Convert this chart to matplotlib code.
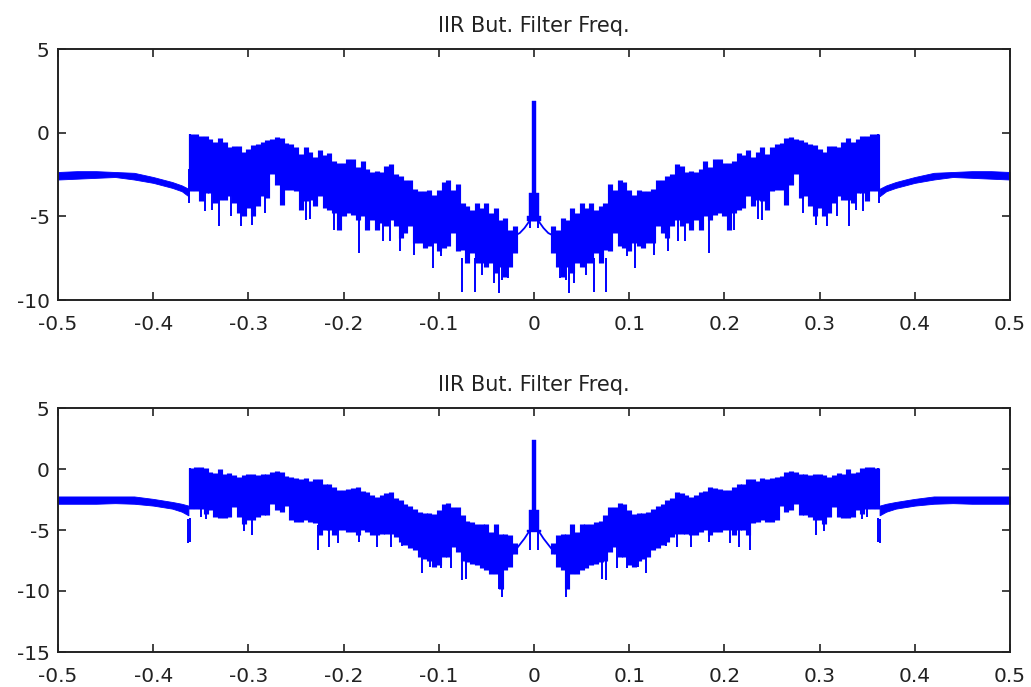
import matplotlib
matplotlib.use('Agg')
import matplotlib.pyplot as plt
import numpy as np

plt.rcParams['font.family'] = ['DejaVu Sans']
plt.rcParams['axes.unicode_minus'] = False

title = 'IIR But. Filter Freq.'
xticks = [-0.5, -0.4, -0.3, -0.2, -0.1, 0, 0.1, 0.2, 0.3, 0.4, 0.5]
xlabels = ['-0.5', '-0.4', '-0.3', '-0.2', '-0.1', '0', '0.1', '0.2', '0.3', '0.4', '0.5']
yticks_a = [-10, -5, 0, 5]
yticks_b = [-15, -10, -5, 0, 5]

# stop band outside the filter edge, negative side only (plot is symmetric)
edge_x = [-0.50, -0.48, -0.46, -0.44, -0.42, -0.40, -0.38, -0.37, -0.363]
edge_hi_a = [-2.35, -2.3, -2.3, -2.35, -2.4, -2.65, -2.95, -3.15, -3.35]
edge_lo_a = [-2.8, -2.75, -2.7, -2.65, -2.8, -3.0, -3.3, -3.5, -3.8]
edge_hi_b = [-2.25, -2.25, -2.25, -2.25, -2.25, -2.45, -2.7, -2.85, -3.0]
edge_lo_b = [-2.85, -2.85, -2.85, -2.8, -2.85, -3.0, -3.25, -3.5, -3.8]

# top and bottom of the dense band, read every 0.005 from -0.36 to -0.005
band_hi_a = [-0.1, -0.1, -0.2, -0.2, -0.4, -0.55, -0.3, -0.55, -0.85, -0.8, -0.8, -1.15,
             -0.95, -0.75, -0.65, -0.55, -0.45, -0.35, -0.25, -0.3, -0.6, -0.7, -0.85, -1.25,
             -0.85, -1.15, -1.45, -1.05, -1.35, -1.2, -1.7, -1.8, -1.8, -1.6, -1.6, -2.05,
             -1.7, -2.2, -2.35, -2.3, -2.35, -2.0, -1.9, -2.45, -2.6, -2.85, -2.85, -3.35,
             -3.5, -3.5, -3.45, -3.7, -3.45, -2.95, -2.85, -3.4, -3.05, -4.2, -4.4, -4.6,
             -4.2, -4.5, -4.2, -4.8, -4.5, -5.2, -5.1, -5.8, -5.55, -6.0, -5.6, -5.0]
band_lo_a = [-3.5, -3.5, -4.1, -3.6, -3.6, -4.2, -4.0, -4.0, -3.8, -4.2, -4.8, -5.0,
             -4.5, -5.0, -4.4, -3.8, -3.9, -2.45, -3.1, -4.3, -3.4, -3.4, -3.5, -4.6,
             -4.1, -4.0, -4.4, -3.8, -4.5, -4.6, -4.8, -5.8, -5.0, -4.8, -4.9, -5.2,
             -5.0, -5.8, -5.2, -5.8, -5.4, -5.6, -5.2, -5.6, -6.3, -6.0, -5.6, -6.6,
             -6.6, -6.9, -6.8, -6.6, -7.1, -6.9, -6.8, -6.0, -7.1, -7.0, -7.8, -7.2,
             -7.8, -7.8, -8.0, -7.8, -8.4, -8.0, -8.6, -8.0, -7.2, -6.1, -5.8, -5.4]
band_hi_b = [0.1, 0.2, 0.15, 0.1, -0.25, -0.35, 0.0, -0.4, -0.3, -0.5, -0.65, -0.5,
             -0.4, -0.45, -0.5, -0.45, -0.4, -0.25, -0.2, -0.25, -0.6, -0.65, -0.7, -0.85,
             -0.7, -0.95, -0.8, -0.8, -1.2, -1.25, -1.5, -1.7, -1.7, -1.6, -1.55, -1.5,
             -1.8, -1.9, -2.15, -2.3, -2.15, -2.0, -1.9, -2.35, -2.55, -2.85, -3.0, -3.25,
             -3.5, -3.6, -3.6, -3.65, -3.4, -2.9, -2.8, -3.1, -3.1, -3.8, -4.25, -4.35,
             -4.5, -4.5, -4.5, -5.15, -4.5, -5.3, -5.35, -5.45, -6.1, -6.05, -5.6, -5.0]
band_lo_b = [-3.25, -3.25, -3.25, -3.65, -3.4, -3.95, -4.0, -4.0, -3.9, -3.1, -3.95, -4.5,
             -4.2, -4.2, -3.95, -3.8, -3.8, -2.85, -3.4, -3.5, -3.0, -4.2, -4.35, -4.35,
             -4.2, -4.35, -4.4, -5.45, -5.0, -5.0, -5.45, -5.0, -5.0, -5.15, -5.15, -5.45,
             -5.0, -5.15, -5.45, -5.45, -5.3, -5.3, -5.3, -5.55, -6.0, -6.25, -6.5, -6.65,
             -7.2, -7.35, -7.5, -8.0, -7.9, -7.2, -7.2, -6.4, -6.8, -7.5, -7.6, -7.75,
             -7.9, -8.15, -8.3, -8.6, -8.6, -9.8, -8.3, -8.0, -6.95, -6.5, -5.8, -5.2]

# deep single notches below the band
notch_x_a = [-0.362, -0.346, -0.338, -0.331, -0.318, -0.308, -0.296, -0.283, -0.240, -0.235,
             -0.210, -0.184, -0.159, -0.151, -0.141, -0.126, -0.106, -0.098, -0.0755, -0.0625,
             -0.055, -0.0425, -0.037, -0.034, -0.0272, -0.004]
notch_y_a = [-4.2, -4.7, -4.65, -5.6, -5.0, -5.6, -5.5, -4.8, -5.2, -5.15,
             -5.8, -7.2, -6.5, -6.5, -7.1, -7.3, -8.1, -7.4, -9.5, -9.5,
             -8.5, -9.0, -9.6, -8.8, -8.7, -5.7]
notch_x_b = [-0.3635, -0.361, -0.350, -0.345, -0.305, -0.296, -0.227, -0.215, -0.206, -0.184,
             -0.165, -0.150, -0.139, -0.118, -0.109, -0.098, -0.087, -0.076, -0.0715, -0.037,
             -0.034, -0.004]
notch_y_b = [-6.1, -6.0, -3.9, -4.1, -5.1, -5.45, -6.6, -6.4, -6.1, -6.0,
             -6.4, -6.4, -6.3, -8.5, -8.05, -8.1, -8.1, -9.1, -9.0, -9.8,
             -10.5, -6.6]

# thin ridge running from the band up to the centre peak
ridge_x = [-0.022, -0.015, -0.01, -0.005, -0.002]
ridge_y_a = [-6.2, -6.0, -5.7, -5.3, -5.2]
ridge_y_b = [-6.9, -6.2, -5.7, -5.1, -5.0]

# centre peak: half width, bottom, top
peak_w = [0.007, 0.005, 0.0025]
peak_lo_a = [-5.3, -5.3, -5.3]
peak_hi_a = [-5.0, -3.6, 1.9]
peak_lo_b = [-5.2, -5.0, -5.0]
peak_hi_b = [-5.0, -3.4, 2.35]

band_x = np.arange(72) * 0.005 - 0.36


def draw(ax, hi, lo, e_hi, e_lo, nx, ny, r_y, p_lo, p_hi, ylim, yticks):
    blue = '#0000ff'
    for sign in (-1, 1):
        ax.fill_between(sign * np.array(edge_x), e_lo, e_hi, color=blue, lw=0.6)
        ax.vlines(sign * band_x[:-3], lo[:-3], hi[:-3], color=blue, lw=3.7)
        # notches start inside the band so they join it
        ax.vlines(sign * np.array(nx), np.array(ny), np.array(ny) + 2, color=blue, lw=1.4)
        ax.vlines(sign * 0.3615, e_hi[-1], hi[0], color=blue, lw=1.5)
        ax.plot(sign * np.array(ridge_x), r_y, color=blue, lw=1.3)
    for w, l, h in zip(peak_w, p_lo, p_hi):
        ax.fill_between([-w, w], [l, l], [h, h], color=blue, lw=0.3)
    ax.set_xlim(-0.5, 0.5)
    ax.set_ylim(*ylim)
    ax.set_xticks(xticks)
    ax.set_xticklabels(xlabels)
    ax.set_yticks(yticks)
    ax.tick_params(direction='in', top=True, right=True, length=6, width=1.2,
                   color='#222222', labelcolor='#222222', labelsize=14.5)
    ax.tick_params(axis='x', pad=11)
    ax.tick_params(axis='y', pad=6)
    for s in ax.spines.values():
        s.set_linewidth(1.4)
        s.set_color('#222222')
    ax.set_title(title, fontsize=15, color='#222222', pad=12)


fig = plt.figure(figsize=(10.31, 6.87), dpi=100)
ax1 = fig.add_axes([58 / 1031, 1 - 300 / 687, 952 / 1031, 251 / 687])
ax2 = fig.add_axes([58 / 1031, 1 - 652 / 687, 952 / 1031, 244 / 687])

draw(ax1, band_hi_a, band_lo_a, edge_hi_a, edge_lo_a, notch_x_a, notch_y_a, ridge_y_a,
     peak_lo_a, peak_hi_a, (-10, 5), yticks_a)
draw(ax2, band_hi_b, band_lo_b, edge_hi_b, edge_lo_b, notch_x_b, notch_y_b, ridge_y_b,
     peak_lo_b, peak_hi_b, (-15, 5), yticks_b)

fig.savefig('out.png', dpi=100)
